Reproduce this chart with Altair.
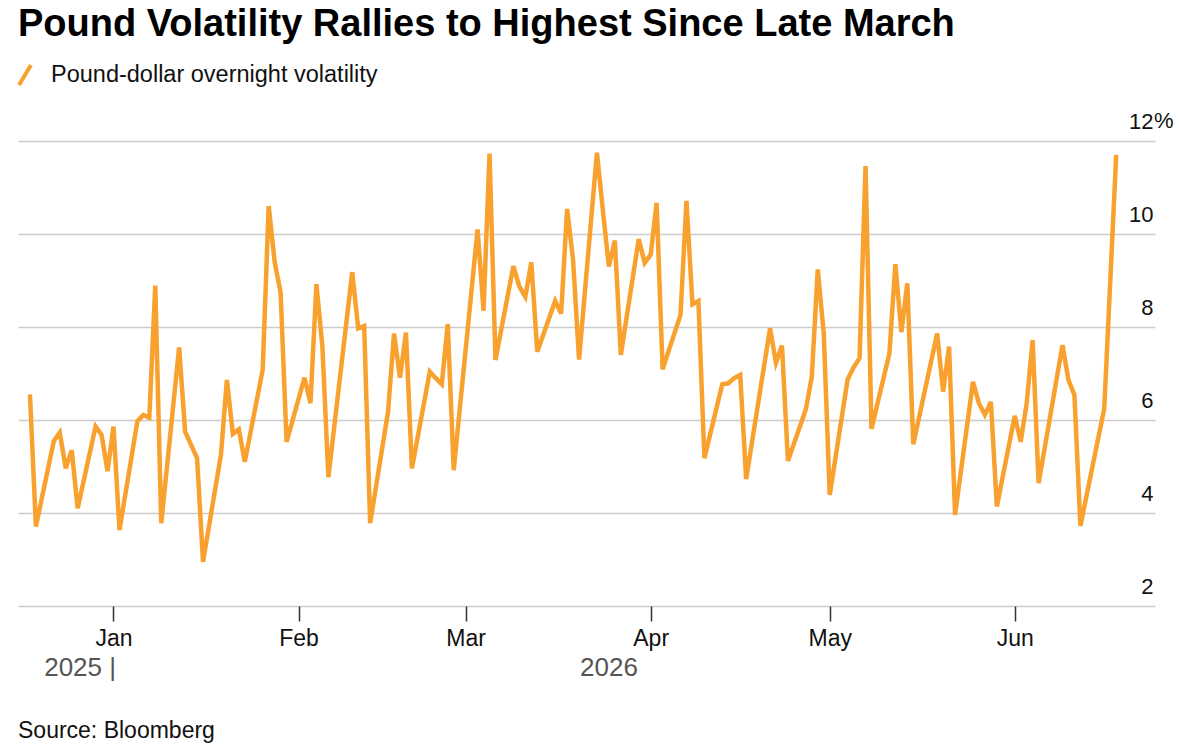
import altair as alt
import pandas as pd

# Pound-dollar overnight implied volatility, % (daily closes)
dates = [
    "2025-12-18", "2025-12-19", "2025-12-22", "2025-12-23", "2025-12-24", "2025-12-25",
    "2025-12-26", "2025-12-29", "2025-12-30", "2025-12-31", "2026-01-01", "2026-01-02",
    "2026-01-05", "2026-01-06", "2026-01-07", "2026-01-08", "2026-01-09", "2026-01-12",
    "2026-01-13", "2026-01-15", "2026-01-16", "2026-01-19", "2026-01-20", "2026-01-21",
    "2026-01-22", "2026-01-23", "2026-01-26", "2026-01-27", "2026-01-28", "2026-01-29",
    "2026-01-30", "2026-02-02", "2026-02-03", "2026-02-04", "2026-02-05", "2026-02-06",
    "2026-02-10", "2026-02-11", "2026-02-12", "2026-02-13", "2026-02-16", "2026-02-17",
    "2026-02-18", "2026-02-19", "2026-02-20", "2026-02-23", "2026-02-24", "2026-02-25",
    "2026-02-26", "2026-02-27", "2026-03-03", "2026-03-04", "2026-03-05", "2026-03-06",
    "2026-03-09", "2026-03-10", "2026-03-11", "2026-03-12", "2026-03-13", "2026-03-16",
    "2026-03-17", "2026-03-18", "2026-03-19", "2026-03-20", "2026-03-23", "2026-03-24",
    "2026-03-25", "2026-03-26", "2026-03-27", "2026-03-30", "2026-03-31", "2026-04-01",
    "2026-04-02", "2026-04-03", "2026-04-06", "2026-04-07", "2026-04-08", "2026-04-09",
    "2026-04-10", "2026-04-13", "2026-04-14", "2026-04-15", "2026-04-16", "2026-04-17",
    "2026-04-21", "2026-04-22", "2026-04-23", "2026-04-24", "2026-04-27", "2026-04-28",
    "2026-04-29", "2026-04-30", "2026-05-01", "2026-05-04", "2026-05-05", "2026-05-06",
    "2026-05-07", "2026-05-08", "2026-05-11", "2026-05-12", "2026-05-13", "2026-05-14",
    "2026-05-15", "2026-05-19", "2026-05-20", "2026-05-21", "2026-05-22", "2026-05-25",
    "2026-05-26", "2026-05-27", "2026-05-28", "2026-05-29", "2026-06-01", "2026-06-02",
    "2026-06-03", "2026-06-04", "2026-06-05", "2026-06-09", "2026-06-10", "2026-06-11",
    "2026-06-12", "2026-06-16", "2026-06-18",
]
vols = [
    6.55, 3.71, 5.55, 5.73, 4.96, 5.35,
    4.10, 5.86, 5.68, 4.90, 5.86, 3.63,
    5.97, 6.11, 6.05, 8.89, 3.78, 7.56,
    5.75, 5.18, 2.95, 5.25, 6.86, 5.70,
    5.80, 5.10, 7.08, 10.60, 9.40, 8.74,
    5.53, 6.91, 6.36, 8.92, 7.58, 4.77,
    9.18, 7.97, 8.02, 3.78, 6.18, 7.86,
    6.91, 7.88, 4.96, 7.04, 6.90, 6.77,
    8.06, 4.92, 10.10, 8.35, 11.73, 7.29,
    9.31, 8.87, 8.65, 9.39, 7.47, 8.56,
    8.29, 10.54, 9.44, 7.30, 11.75, 10.50,
    9.30, 9.86, 7.40, 9.89, 9.38, 9.55,
    10.67, 7.09, 8.26, 10.71, 8.49, 8.56,
    5.18, 6.77, 6.79, 6.90, 6.97, 4.73,
    7.97, 7.23, 7.60, 5.12, 6.23, 6.93,
    9.24, 7.86, 4.39, 6.87, 7.13, 7.33,
    11.46, 5.81, 7.43, 9.35, 7.89, 8.94,
    5.48, 7.86, 6.61, 7.58, 3.96, 6.82,
    6.36, 6.11, 6.39, 4.14, 6.09, 5.53,
    6.36, 7.72, 4.64, 7.61, 6.86, 6.54,
    3.72, 6.25, 11.70,
]

SERIES = "Pound-dollar overnight volatility"
TITLE = "Pound Volatility Rallies to Highest Since Late March"
SOURCE = "Source: Bloomberg"
Y_TICKS = [2, 4, 6, 8, 10, 12]
MONTHS = [1, 2, 3, 4, 5, 6]
YEAR_LABELS = ["2025 |", "2026"]

ORANGE = "#f9a12e"
FONT = "Liberation Sans"
W, H = 1137, 465

df = pd.DataFrame({"date": dates, "vol": vols, "series": SERIES})

x_scale = alt.Scale(
    type="utc",
    domain=[
        alt.DateTime(year=2025, month=12, date=16, utc=True),
        alt.DateTime(year=2026, month=6, date=24, hours=12, utc=True),
    ],
)
y_scale = alt.Scale(domain=[2, 12], nice=False, zero=False)

x_axis = alt.Axis(
    title=None,
    values=[alt.DateTime(year=2026, month=m, date=1, utc=True) for m in MONTHS],
    labelExpr="utcFormat(datum.value, '%b')",
    domain=False,
    grid=False,
    ticks=True,
    tickSize=15,
    tickWidth=1.5,
    tickColor="#333333",
    labelPadding=6,
    labelFont=FONT,
    labelFontSize=23,
    labelColor="#111111",
)
y_axis = alt.Axis(
    title=None,
    orient="right",
    values=Y_TICKS,
    grid=True,
    gridColor="#cccccc",
    gridWidth=1.5,
    ticks=False,
    tickSize=0,
    domain=False,
    labelAlign="right",
    labelBaseline="alphabetic",
    labelPadding=-2,
    labelOffset=-13,
    labelFont=FONT,
    labelFontSize=22,
    labelColor="#111111",
)

line = alt.Chart(df).mark_line(strokeWidth=4.5).encode(
    x=alt.X("date:T", scale=x_scale, axis=x_axis),
    y=alt.Y("vol:Q", scale=y_scale, axis=y_axis),
    color=alt.Color(
        "series:N",
        scale=alt.Scale(range=[ORANGE]),
        legend=alt.Legend(
            title=None,
            orient="none",
            legendX=-5,
            legendY=-78,
            padding=0,
            symbolType="M-0.6,1L0.6,-1",
            symbolSize=400,
            symbolStrokeWidth=4,
            labelOffset=14,
            labelLimit=800,
            labelFont=FONT,
            labelFontSize=23.5,
            labelColor="#111111",
        ),
    ),
)

# "%" unit next to the top tick label
pct = alt.Chart(pd.DataFrame({"v": [12], "t": ["%"]})).mark_text(
    align="left", baseline="alphabetic", dy=-13, font=FONT, fontSize=22, color="#111111"
).encode(x=alt.value(W - 1), y=alt.Y("v:Q", scale=y_scale, axis=y_axis), text="t:N")

title = alt.Chart(pd.DataFrame({"t": [TITLE]})).mark_text(
    align="left", baseline="alphabetic", font=FONT, fontSize=38, fontWeight="bold", color="#000000"
).encode(x=alt.value(0), y=alt.value(-105), text="t:N")

source = alt.Chart(pd.DataFrame({"t": [SOURCE]})).mark_text(
    align="left", baseline="alphabetic", font=FONT, fontSize=23, color="#111111"
).encode(x=alt.value(0), y=alt.value(597), text="t:N")

year_old = alt.Chart(pd.DataFrame({"t": [YEAR_LABELS[0]]})).mark_text(
    align="right", baseline="alphabetic", font=FONT, fontSize=26, color="#555555"
).encode(x=alt.value(98), y=alt.value(535), text="t:N")

year_new = alt.Chart(pd.DataFrame({"t": [YEAR_LABELS[1]]})).mark_text(
    align="left", baseline="alphabetic", font=FONT, fontSize=26, color="#555555"
).encode(x=alt.value(562), y=alt.value(535), text="t:N")

chart = (
    alt.layer(line, pct, title, source, year_old, year_new)
    .properties(
        width=W,
        height=H,
        padding={"left": 18, "top": 141, "right": 24, "bottom": 144},
        autosize=alt.AutoSizeParams(type="none"),
        background="white",
    )
    .configure_view(stroke=None)
)

chart.save("out.html", embed_options={"renderer": "svg", "actions": False})
